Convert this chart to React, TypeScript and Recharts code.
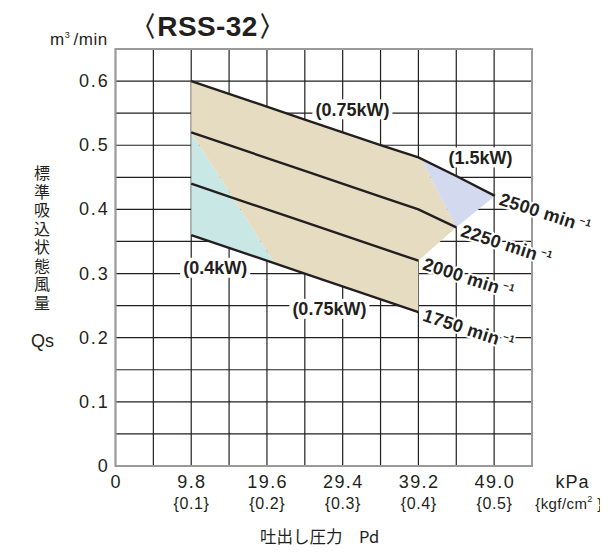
import React from "react";
import {
  ComposedChart,
  Area,
  Line,
  XAxis,
  YAxis,
  CartesianGrid,
  ReferenceArea,
  ReferenceDot,
} from "recharts";

const INK = "#231f20";
const FONT = "'Liberation Sans', Arial, Helvetica, sans-serif";
const JP = "'Noto Sans CJK JP', 'Noto Sans CJK SC', sans-serif";

// performance curves: discharge pressure Pd (kPa) -> air flow Qs (m3/min)
const p2500 = [9.8, 24.5, 34.3, 39.2, 44.1, 49.1];
const q2500 = [0.6, 0.54, 0.5, 0.481, 0.452, 0.421];
const p2250 = [9.8, 14.7, 24.5, 34.3, 39.2, 44.1];
const q2250 = [0.52, 0.5, 0.46, 0.42, 0.4, 0.372];
const p2000 = [9.8, 14.7, 24.5, 39.2];
const q2000 = [0.44, 0.42, 0.38, 0.32];
const p1750 = [9.8, 24.5, 39.2];
const q1750 = [0.36, 0.3, 0.24];

// motor zones (low / high edge at each pressure)
const zone04P = [9.8, 20.6];
const zone04Lo = [0.36, 0.316];
const zone04Hi = [0.52, 0.316];
const zone075P = [9.8, 20.6, 39.2, 39.2, 39.56, 44.1];
const zone075Lo = [0.52, 0.316, 0.24, 0.32, 0.324, 0.372];
const zone075Hi = [0.6, 0.556, 0.481, 0.481, 0.479, 0.372];
const zone15P = [39.56, 44.1, 49.1];
const zone15Lo = [0.479, 0.372, 0.421];
const zone15Hi = [0.479, 0.452, 0.421];

// annotations
const kwText = ["(0.75kW)", "(1.5kW)", "(0.4kW)", "(0.75kW)"];
const kwP = [30.66, 47.25, 12.9, 27.68];
const kwQ = [0.556, 0.481, 0.309, 0.245];
const kwW = [80, 68, 70, 80];

// axes
const xTicks = [0, 4.9, 9.8, 14.7, 19.6, 24.5, 29.4, 34.3, 39.2, 44.1, 49.0, 53.9];
const xMain = [0, 9.8, 19.6, 29.4, 39.2, 49.0];
const xMainText = ["0", "9.8", "19.6", "29.4", "39.2", "49.0"];
const xKgfText = ["", "{0.1}", "{0.2}", "{0.3}", "{0.4}", "{0.5}"];
const yTicks = [0, 0.05, 0.1, 0.15, 0.2, 0.25, 0.3, 0.35, 0.4, 0.45, 0.5, 0.55, 0.6, 0.65];
const yMain = [0, 0.1, 0.2, 0.3, 0.4, 0.5, 0.6];
const yMainText = ["0", "0.1", "0.2", "0.3", "0.4", "0.5", "0.6"];

const yTitle = "標準吸込状態風量";

const toRows = (ps: number[], qs: number[]) => ps.map((p, i) => ({ p, q: qs[i] }));
const toRange = (ps: number[], lo: number[], hi: number[]) =>
  ps.map((p, i) => ({ p, r: [lo[i], hi[i]] }));

const curves = [
  { name: "2500", rows: toRows(p2500, q2500) },
  { name: "2250", rows: toRows(p2250, q2250) },
  { name: "2000", rows: toRows(p2000, q2000) },
  { name: "1750", rows: toRows(p1750, q1750) },
];

const XTick = (props: any) => {
  const { x, y, payload } = props;
  const i = xMain.findIndex((m) => Math.abs(m - payload.value) < 1e-6);
  if (i < 0) return null;
  return (
    <g>
      <text x={x + 0.7} y={y + 22} textAnchor="middle" fontFamily={FONT} fontSize={18} letterSpacing={1.4} fill={INK}>
        {xMainText[i]}
      </text>
      {xKgfText[i] && (
        <text x={x + 0.3} y={y + 43} textAnchor="middle" fontFamily={FONT} fontSize={16} letterSpacing={0.6} fill={INK}>
          {xKgfText[i]}
        </text>
      )}
    </g>
  );
};

const YTick = (props: any) => {
  const { x, y, payload } = props;
  const i = yMain.findIndex((m) => Math.abs(m - payload.value) < 1e-6);
  if (i < 0) return null;
  return (
    <text x={x - 6} y={y + 6} textAnchor="end" fontFamily={FONT} fontSize={18} letterSpacing={1.8} fill={INK}>
      {yMainText[i]}
    </text>
  );
};

const kwShape = (i: number) => (props: any) => {
  const { cx, cy } = props;
  const w = kwW[i];
  return (
    <g>
      <rect x={cx - w / 2} y={cy - 10} width={w} height={20} fill="#fff" />
      <text x={cx} y={cy + 6.5} textAnchor="middle" fontFamily={FONT} fontWeight="bold" fontSize={18} fill={INK}>
        {kwText[i]}
      </text>
    </g>
  );
};

const speedShape = (name: string) => (props: any) => {
  const { cx, cy } = props;
  return (
    <g transform={`translate(${cx + 3},${cy}) rotate(18)`}>
      <text
        x={3}
        y={8}
        fontFamily={FONT}
        fontWeight="bold"
        fontSize={18}
        letterSpacing={0.3}
        fill={INK}
        stroke="#fff"
        strokeWidth={4}
        paintOrder="stroke"
      >
        {name} min
        <tspan fontSize={10} dx={3} dy={-7}>
          −1
        </tspan>
      </text>
    </g>
  );
};

export default function App() {
  return (
    <div style={{ position: "relative", width: 600, height: 544 }}>
      <ComposedChart
        width={600}
        height={544}
        margin={{ top: 41, right: 76, bottom: 0, left: 0 }}
      >
        <XAxis
          dataKey="p"
          type="number"
          domain={[0, 53.9]}
          ticks={xTicks}
          interval={0}
          axisLine={false}
          tickLine={false}
          tickSize={0}
          tickMargin={0}
          height={86}
          tick={<XTick />}
        />
        <YAxis
          type="number"
          domain={[0, 0.65]}
          ticks={yTicks}
          interval={0}
          axisLine={false}
          tickLine={false}
          tickSize={0}
          tickMargin={0}
          width={107.5}
          tick={<YTick />}
        />
        <Area
          data={toRange(zone04P, zone04Lo, zone04Hi)}
          dataKey="r"
          type="linear"
          fill="#c9e7e5"
          fillOpacity={1}
          stroke="none"
          isAnimationActive={false}
        />
        <Area
          data={toRange(zone075P, zone075Lo, zone075Hi)}
          dataKey="r"
          type="linear"
          fill="#e6dcc1"
          fillOpacity={1}
          stroke="none"
          isAnimationActive={false}
        />
        <Area
          data={toRange(zone15P, zone15Lo, zone15Hi)}
          dataKey="r"
          type="linear"
          fill="#d3d9ef"
          fillOpacity={1}
          stroke="none"
          isAnimationActive={false}
        />
        <CartesianGrid stroke={INK} strokeWidth={1.2} />
        <ReferenceArea x1={0} x2={53.9} y1={0} y2={0.65} fill="none" stroke="#9a9a9a" strokeWidth={2} />
        {curves.map((c) => (
          <Line
            key={c.name}
            data={c.rows}
            dataKey="q"
            type="linear"
            stroke={INK}
            strokeWidth={2.4}
            dot={false}
            isAnimationActive={false}
          />
        ))}
        {kwText.map((t, i) => (
          <ReferenceDot key={"kw" + i} x={kwP[i]} y={kwQ[i]} r={0} shape={kwShape(i)} />
        ))}
        {curves.map((c) => {
          const last = c.rows[c.rows.length - 1];
          return (
            <ReferenceDot key={"sp" + c.name} x={last.p} y={last.q} r={0} shape={speedShape(c.name)} />
          );
        })}
      </ComposedChart>
      <svg
        width={600}
        height={544}
        style={{ position: "absolute", left: 0, top: 0, pointerEvents: "none", overflow: "visible" }}
      >
        <text x={199.5} y={28} textAnchor="middle" fontFamily={FONT} fontWeight="bold" fontSize={28} letterSpacing={0.4} fill={INK}>
          〈RSS-32〉
        </text>
        <text x={42} y={37} fontFamily={FONT} fontSize={17} letterSpacing={0.6} fill={INK}>
          m<tspan fontSize={9} dy={-7}>3</tspan>
          <tspan dx={3} dy={7}>/min</tspan>
        </text>
        <text
          x={34}
          y={157}
          fontFamily={JP}
          fontSize={16}
          letterSpacing={2.5}
          fill={INK}
          style={{ writingMode: "vertical-rl" }}
        >
          {yTitle}
        </text>
        <text x={34.5} y={339} textAnchor="middle" fontFamily={FONT} fontSize={18} fill={INK}>
          Qs
        </text>
        <text x={564.5} y={480} textAnchor="middle" fontFamily={FONT} fontSize={18} letterSpacing={1} fill={INK}>
          kPa
        </text>
        <text x={561} y={501} textAnchor="middle" fontFamily={FONT} fontSize={15} letterSpacing={0.4} fill={INK}>
          {"{kgf/cm"}
          <tspan fontSize={9} dy={-7}>2</tspan>
          <tspan dy={7}>{" }"}</tspan>
        </text>
        <text x={252} y={535} fontFamily={JP} fontSize={16.5} fill={INK}>
          吐出し圧力　Pd
        </text>
      </svg>
    </div>
  );
}
